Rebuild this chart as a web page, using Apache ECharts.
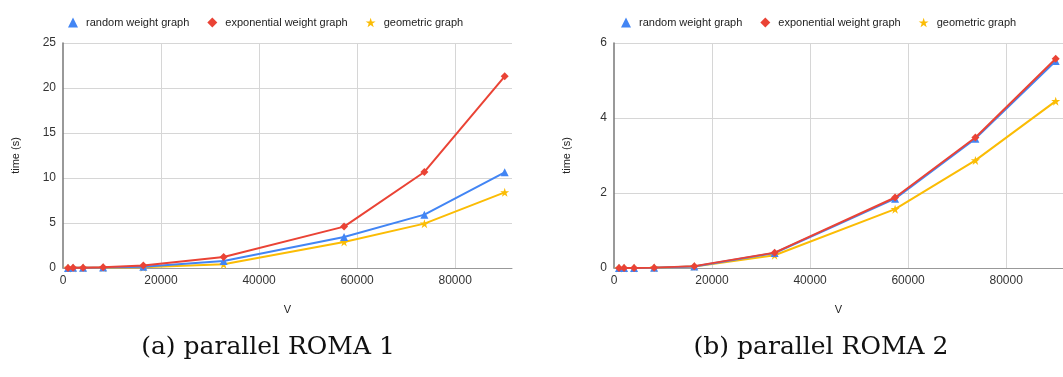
<!DOCTYPE html>
<html>
<head>
<meta charset="utf-8">
<script src="https://cdn.jsdelivr.net/npm/echarts@6/dist/echarts.min.js"></script>
<style>
  html, body { margin: 0; padding: 0; background: #fff; }
  #chart { width: 1063px; height: 377px; }
</style>
</head>
<body>
<div id="chart"></div>
<script>
// Graph sizes |V| shared by both panels
const vertices = [1024, 2048, 4096, 8192, 16384, 32768, 57344, 73728, 90112];

// Panel (a): parallel ROMA 1, running time in seconds
const roma1Random      = [0.01, 0.02, 0.03, 0.05, 0.15, 0.78, 3.45, 5.93, 10.63];
const roma1Exponential = [0.01, 0.02, 0.04, 0.08, 0.27, 1.22, 4.60, 10.67, 21.30];
const roma1Geometric   = [0.01, 0.01, 0.02, 0.04, 0.08, 0.41, 2.89, 4.93, 8.41];

// Panel (b): parallel ROMA 2, running time in seconds
const roma2Random      = [0.00, 0.00, 0.00, 0.01, 0.04, 0.40, 1.85, 3.45, 5.52];
const roma2Exponential = [0.00, 0.00, 0.00, 0.01, 0.05, 0.41, 1.88, 3.48, 5.58];
const roma2Geometric   = [0.00, 0.00, 0.00, 0.01, 0.04, 0.34, 1.57, 2.87, 4.45];

const seriesNames = ['random weight graph', 'exponential weight graph', 'geometric graph'];
const captions = ['(a) parallel ROMA 1', '(b) parallel ROMA 2'];

const COLORS = ['#4285f4', '#ea4335', '#fbbc04'];
const STAR = 'path://M50,0 L61.8,35.4 L100,35.4 L69.1,57.3 L80.9,92.7 L50,70.8 L19.1,92.7 L30.9,57.3 L0,35.4 L38.2,35.4 Z';
const SYMBOLS = ['triangle', 'diamond', STAR];
const SANS = 'Liberation Sans, Arial, sans-serif';
const SERIF = 'DejaVu Serif, Liberation Serif, serif';

function pairs(ys) { return vertices.map((v, i) => [v, ys[i]]); }

function makeSeries(gridIdx, sets) {
  return sets.map((ys, k) => ({
    name: seriesNames[k],
    type: 'line',
    xAxisIndex: gridIdx,
    yAxisIndex: gridIdx,
    data: pairs(ys),
    symbol: SYMBOLS[k],
    symbolSize: k === 2 ? 9 : 8,
    showSymbol: true,
    color: COLORS[k],
    lineStyle: { width: 2, color: COLORS[k] },
    itemStyle: { color: COLORS[k] },
    z: k === 1 ? 4 : (k === 0 ? 3 : 2),
    animation: false
  }));
}

function legendFor(left) {
  return {
    left: left, top: 12,
    itemWidth: 10, itemHeight: 10, itemGap: 18,
    textStyle: { fontFamily: SANS, fontSize: 11, color: '#222', padding: [0, 0, 0, 3] },
    data: seriesNames.map((n, k) => ({ name: n, icon: SYMBOLS[k] })),
    selectedMode: false
  };
}

function xAxisFor(gridIdx) {
  return {
    gridIndex: gridIdx, type: 'value', min: 0, max: 91600, interval: 20000,
    name: 'V', nameLocation: 'middle', nameGap: 36,
    nameTextStyle: { fontFamily: SANS, fontSize: 11, color: '#222' },
    axisLine: { show: true, lineStyle: { color: '#999', width: 1 } },
    axisTick: { show: false },
    axisLabel: { fontFamily: SANS, fontSize: 12, color: '#333', margin: 7, showMaxLabel: false,
                 formatter: v => String(v) },
    splitLine: { show: true, showMinLine: false, showMaxLine: false, lineStyle: { color: '#d6d6d6' } }
  };
}

function yAxisFor(gridIdx, max, interval) {
  return {
    gridIndex: gridIdx, type: 'value', min: 0, max: max, interval: interval,
    name: 'time (s)', nameLocation: 'middle', nameGap: 42, nameRotate: 90,
    nameTextStyle: { fontFamily: SANS, fontSize: 11, color: '#222' },
    axisLine: { show: true, lineStyle: { color: '#777', width: 1.5 } },
    axisTick: { show: false },
    axisLabel: { fontFamily: SANS, fontSize: 12, color: '#333', margin: 7 },
    splitLine: { show: true, lineStyle: { color: '#d6d6d6' } }
  };
}

const chart = echarts.init(document.getElementById('chart'), null, { renderer: 'canvas' });
chart.setOption({
  backgroundColor: '#fff',
  animation: false,
  title: [
    { text: captions[0], left: 263, top: 330, textAlign: 'center',
      textStyle: { fontFamily: SERIF, fontSize: 25, fontWeight: 'normal', color: '#111' } },
    { text: captions[1], left: 816, top: 330, textAlign: 'center',
      textStyle: { fontFamily: SERIF, fontSize: 25, fontWeight: 'normal', color: '#111' } }
  ],
  legend: [legendFor(63), legendFor(616)],
  grid: [
    { left: 63, top: 43, width: 449, height: 225 },
    { left: 614, top: 43, width: 449, height: 225 }
  ],
  xAxis: [xAxisFor(0), xAxisFor(1)],
  yAxis: [yAxisFor(0, 25, 5), yAxisFor(1, 6, 2)],
  series: [
    ...makeSeries(0, [roma1Random, roma1Exponential, roma1Geometric]),
    ...makeSeries(1, [roma2Random, roma2Exponential, roma2Geometric])
  ]
});
</script>
</body>
</html>
